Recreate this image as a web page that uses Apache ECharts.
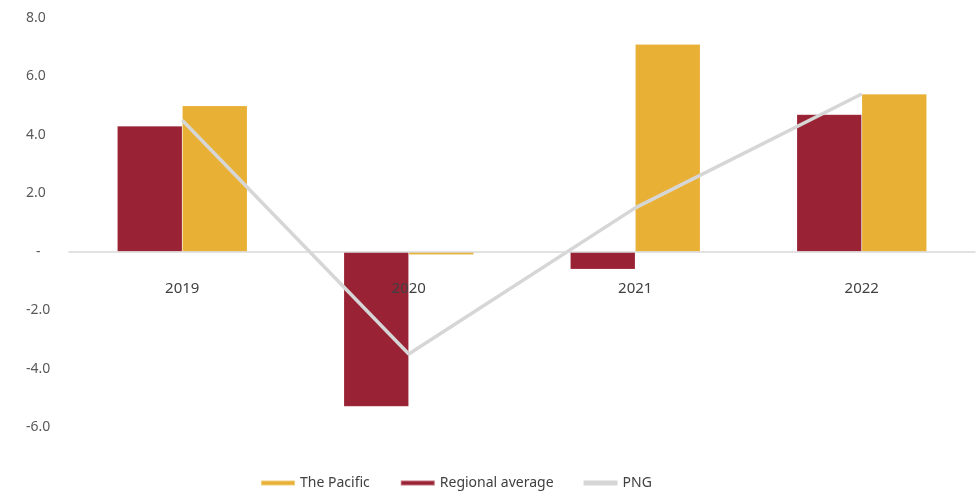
<!DOCTYPE html>
<html>
<head>
<meta charset="utf-8">
<script src="https://cdn.jsdelivr.net/npm/echarts@6/dist/echarts.min.js"></script>
<style>
  html, body { margin: 0; padding: 0; background: #ffffff; }
  #chart { width: 979px; height: 492px; }
</style>
</head>
<body>
<div id="chart"></div>
<script>
// Growth rates (%) by year
const years = ['2019', '2020', '2021', '2022'];
const regionalAverage = [4.3, -5.3, -0.6, 4.7];
const thePacific = [5.0, -0.1, 7.1, 5.4];
const png = [4.5, -3.5, 1.5, 5.4];
const legendOrder = ['The Pacific', 'Regional average', 'PNG'];

const chart = echarts.init(document.getElementById('chart'));
const fontFamily = '"Noto Sans", "Open Sans", sans-serif';

chart.setOption({
  animation: false,
  backgroundColor: '#ffffff',
  grid: { left: 69, right: 4, top: 18, bottom: 65 },
  legend: {
    data: legendOrder,
    left: 255,
    top: 471,
    itemWidth: 34,
    itemHeight: 5,
    itemGap: 30,
    icon: 'rect',
    formatter: function (name) {
      return name === 'Regional average' ? '{wide|' + name + '}' : name;
    },
    textStyle: {
      fontFamily: fontFamily,
      fontSize: 14,
      color: '#404040',
      rich: { wide: { fontFamily: fontFamily, fontSize: 14, color: '#404040', width: 127 } }
    }
  },
  xAxis: {
    type: 'category',
    data: years,
    z: 10,
    axisLine: { onZero: true, lineStyle: { color: '#d9d9d9', width: 1.5 } },
    axisTick: { show: false },
    axisLabel: {
      // year labels sit just under the zero line
      margin: -146,
      fontFamily: fontFamily,
      fontSize: 15,
      color: '#404040'
    }
  },
  yAxis: {
    type: 'value',
    min: -6,
    max: 8,
    interval: 2,
    splitLine: { show: false },
    axisLine: { show: false },
    axisTick: { show: false },
    axisLabel: {
      align: 'left',
      margin: 43,
      fontFamily: fontFamily,
      fontSize: 14,
      color: '#595959',
      formatter: function (v) {
        return v === 0 ? '{z|-}' : v.toFixed(1);
      },
      rich: { z: { padding: [0, 0, 0, 10], fontSize: 14, color: '#595959', fontFamily: fontFamily } }
    }
  },
  series: [
    {
      name: 'Regional average',
      type: 'bar',
      data: regionalAverage,
      barWidth: 65,
      barGap: '0%',
      itemStyle: { color: '#992334', borderColor: 'rgba(255,255,255,0.35)', borderWidth: 0.5 }
    },
    {
      name: 'The Pacific',
      type: 'bar',
      data: thePacific,
      barWidth: 65,
      barGap: '0%',
      itemStyle: { color: '#E8B135', borderColor: 'rgba(255,255,255,0.35)', borderWidth: 0.5 }
    },
    {
      name: 'PNG',
      type: 'line',
      data: png,
      symbol: 'none',
      z: 5,
      lineStyle: { color: '#d6d6d6', width: 3.5 },
      itemStyle: { color: '#d6d6d6' }
    }
  ]
});
</script>
</body>
</html>
